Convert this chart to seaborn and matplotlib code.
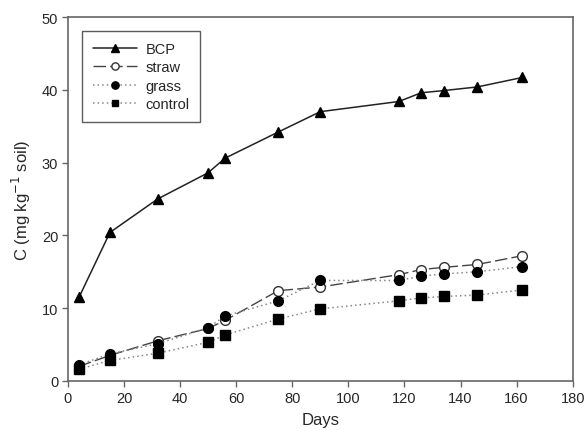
import matplotlib
matplotlib.use("Agg")
import matplotlib.pyplot as plt
import seaborn as sns
import pandas as pd

# Sampling days and cumulative C (mg kg-1 soil) per amendment
days = [4, 15, 32, 50, 56, 75, 90, 118, 126, 134, 146, 162]
bcp = [11.5, 20.4, 25.0, 28.6, 30.6, 34.2, 37.0, 38.4, 39.6, 39.9, 40.4, 41.7]
straw = [2.0, 3.5, 5.5, 7.2, 8.3, 12.4, 12.9, 14.6, 15.3, 15.6, 16.0, 17.2]
grass = [2.2, 3.7, 5.1, 7.3, 8.9, 11.0, 13.8, 13.8, 14.4, 14.7, 15.0, 15.7]
control = [1.6, 2.8, 3.8, 5.3, 6.3, 8.5, 9.9, 11.0, 11.4, 11.6, 11.8, 12.5]

x_ticks = [0, 20, 40, 60, 80, 100, 120, 140, 160, 180]
y_ticks = [0, 10, 20, 30, 40, 50]

sns.set_theme(style="ticks")
plt.rcParams["font.family"] = ["Liberation Sans", "DejaVu Sans"]

fig = plt.figure(figsize=(5.85, 4.31), dpi=100)
ax = fig.add_axes([0.116, 0.114, 0.863, 0.844])

styles = [
    ("BCP", bcp, dict(color="#222222", linestyle="-", marker="^", mfc="black", mec="black", ms=7, lw=1.1)),
    ("straw", straw, dict(color="#444444", linestyle=(0, (9, 3)), marker="o", mfc="white", mec="#333333", ms=7, lw=1.0, mew=1.0)),
    ("grass", grass, dict(color="#888888", linestyle=(0, (1, 2)), marker="o", mfc="black", mec="black", ms=7, lw=1.1)),
    ("control", control, dict(color="#888888", linestyle=(0, (1, 2)), marker="s", mfc="black", mec="black", ms=6.5, lw=1.1)),
]

for name, vals, kw in styles:
    df = pd.DataFrame({"Days": days, "C": vals})
    sns.lineplot(data=df, x="Days", y="C", ax=ax, label=name,
                 color=kw["color"], linestyle=kw["linestyle"], linewidth=kw["lw"],
                 marker=kw["marker"], markerfacecolor=kw["mfc"],
                 markeredgecolor=kw["mec"], markersize=kw["ms"],
                 markeredgewidth=kw.get("mew", 1.0))

ax.set_xlim(0, 180)
ax.set_ylim(0, 50)
ax.set_xticks(x_ticks)
ax.set_yticks(y_ticks)
ax.tick_params(direction="out", length=4, width=1, color="#666666", labelsize=10.5, pad=3)
for s in ax.spines.values():
    s.set_color("#666666")
    s.set_linewidth(1.2)
    s.set_visible(True)

ax.set_xlabel("Days", fontsize=12, labelpad=5)
ax.set_ylabel("C (mg kg$^{-1}$ soil)", fontsize=12, labelpad=6)

leg = ax.legend(loc="upper left", bbox_to_anchor=(0.028, 0.962), borderaxespad=0,
                frameon=True, fancybox=False, edgecolor="#333333", fontsize=10.5,
                handlelength=3.0, handletextpad=0.6, borderpad=0.75,
                labelspacing=0.3, markerscale=0.75)
leg.get_frame().set_linewidth(1.0)

fig.savefig("out.png", dpi=100)
